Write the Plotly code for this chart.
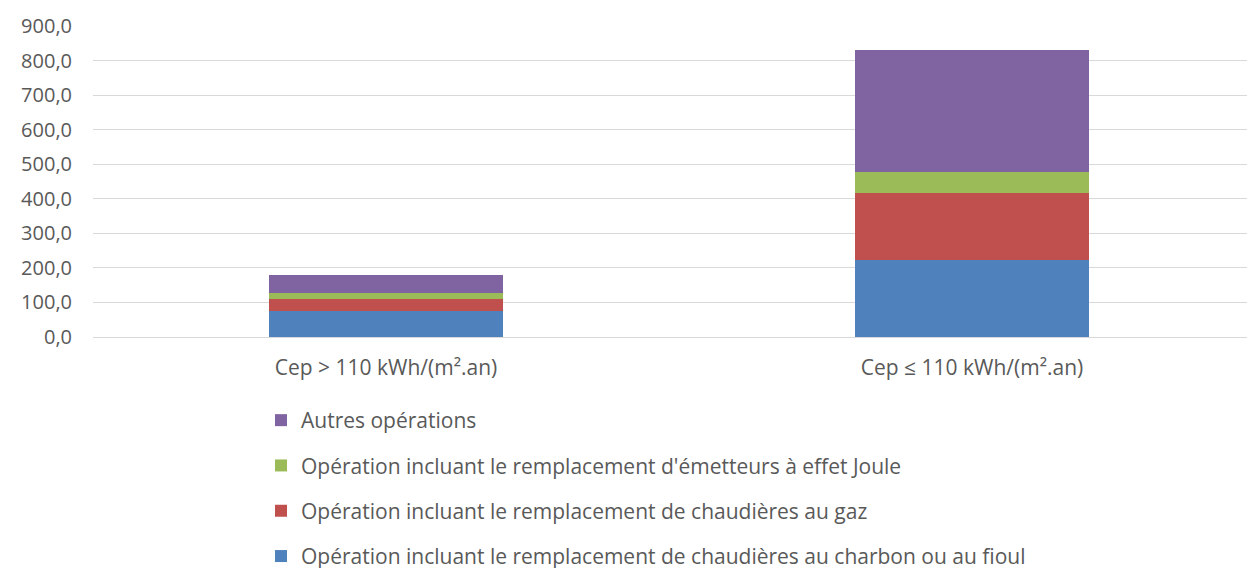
import plotly.graph_objects as go

categories = ["Cep > 110 kWh/(m².an)", "Cep ≤ 110 kWh/(m².an)"]
series_names = [
    "Opération incluant le remplacement de chaudières au charbon ou au fioul",
    "Opération incluant le remplacement de chaudières au gaz",
    "Opération incluant le remplacement d'émetteurs à effet Joule",
    "Autres opérations",
]
charbon_fioul = [75, 224]
gaz = [34, 192]
joule = [17, 62]
autres = [52, 352]
colors = ["#4F81BD", "#C0504D", "#9BBB59", "#8064A2"]
legend_ranks = [4, 3, 2, 1]

values = [charbon_fioul, gaz, joule, autres]

fig = go.Figure()
for name, vals, col, rk in zip(series_names, values, colors, legend_ranks):
    fig.add_trace(go.Bar(
        x=[0, 1], y=vals, name=name, marker=dict(color=col, line=dict(width=0)),
        width=0.4, legendgroup=name, legendrank=rk,
    ))

font_family = "'Open Sans', Lato, sans-serif"
fig.update_layout(
    barmode="stack",
    width=1255, height=568,
    margin=dict(l=85, r=0, t=18, b=239, autoexpand=False),
    paper_bgcolor="white", plot_bgcolor="white",
    separators=", ",
    font=dict(family=font_family, size=21, color="#595959"),
    xaxis=dict(
        tickmode="array", tickvals=[0, 1], ticktext=categories,
        range=[-0.5, 1.4966], showgrid=False, zeroline=False,
        showline=False, ticks="", ticklabelstandoff=16, automargin=False,
        tickfont=dict(size=21, color="#595959"),
    ),
    yaxis=dict(
        range=[0, 900], dtick=100, tick0=0, tickformat=".1f",
        showgrid=True, gridcolor="#D9D9D9", gridwidth=1,
        zeroline=True, zerolinecolor="#D9D9D9", zerolinewidth=1,
        ticks="", ticklabelstandoff=20, automargin=False,
        tickfont=dict(size=20, color="#595959"),
    ),
    legend=dict(
        orientation="v", traceorder="grouped",
        xref="container", yref="container",
        x=253 / 1255, xanchor="left", y=1 - 392 / 568, yanchor="top",
        tracegroupgap=15, itemwidth=30,
        font=dict(size=21, color="#595959"),
        bgcolor="rgba(0,0,0,0)",
    ),
    showlegend=True,
)

fig.write_html("out.html")
